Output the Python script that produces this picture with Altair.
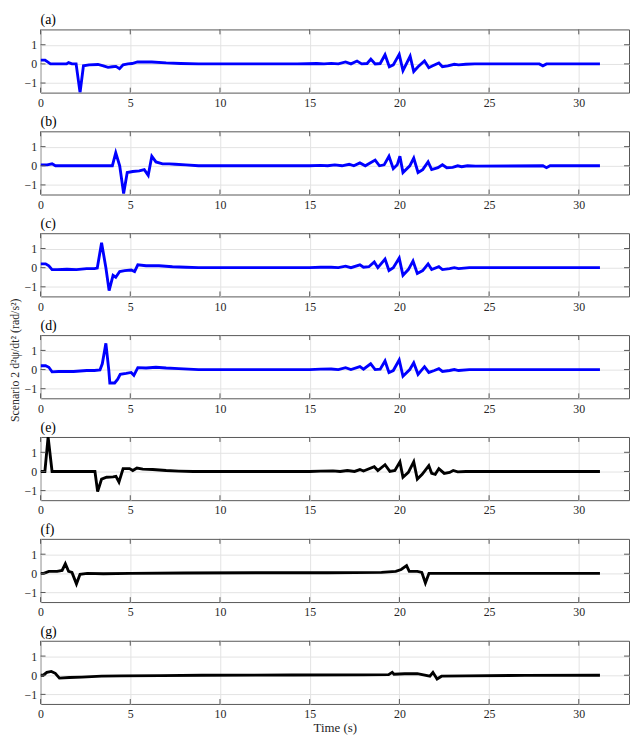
import altair as alt
import pandas as pd

# ---------------- data ----------------
X_TICKS = [0, 5, 10, 15, 20, 25, 30]
Y_TICKS = [-1, 0, 1]
X_DOMAIN = [0, 32.8]
Y_DOMAIN = [-1.5, 1.8]
PANEL_LABELS = ["(a)", "(b)", "(c)", "(d)", "(e)", "(f)", "(g)"]
PANEL_COLORS = ["#0000ff", "#0000ff", "#0000ff", "#0000ff", "#000000", "#000000", "#000000"]
Y_TITLE = "Scenario 2 d\u00b2\u03c8/dt\u00b2 (rad/s\u00b2)"
X_TITLE = "Time (s)"

T_A = [0, 0.25, 0.55, 1.45, 1.56, 1.75, 1.98, 2.2, 2.39, 2.7,
       3.2, 3.5, 3.76, 4.0, 4.2, 4.4, 4.6, 4.87, 5.1, 5.4,
       6.2, 7.0, 7.8, 8.8, 10, 12, 14.3, 15.4, 15.8, 16.2,
       16.6, 17.0, 17.3, 17.64, 17.9, 18.2, 18.41, 18.65, 18.93, 19.2,
       19.44, 19.66, 19.99, 20.2, 20.6, 20.8, 21.04, 21.4, 21.64, 21.86,
       22.2, 22.4, 22.7, 23.06, 23.3, 23.7, 24.2, 27.8, 28.0, 28.2, 31.18]
Y_A = [0.2, 0.2, 0.0, 0.0, 0.07, 0.0, 0.0, -1.5, -0.1, -0.05,
       -0.03, -0.1, -0.18, -0.15, -0.13, -0.25, -0.05, 0.0, 0.02, 0.1,
       0.1, 0.05, 0.02, 0.0, 0.0, 0.0, 0.0, 0.02, 0.0, 0.03,
       0.0, 0.1, 0.0, 0.15, 0.0, 0.02, 0.25, 0.0, 0.02, 0.48,
       -0.15, -0.05, 0.5, -0.35, 0.4, -0.4, -0.15, 0.15, -0.2, -0.1,
       0.05, -0.15, -0.1, -0.02, -0.05, -0.02, 0.0, 0.0, -0.1, 0.0, 0.0]

T_B = [0, 0.37, 0.64, 0.83, 4.0, 4.19, 4.41, 4.63, 4.83, 5.14,
       5.5, 5.78, 6.0, 6.2, 6.43, 6.8, 7.17, 7.5, 8.1, 8.8,
       12, 15.0, 15.6, 16.0, 16.4, 16.8, 17.2, 17.46, 17.8, 18.1,
       18.65, 18.89, 19.15, 19.42, 19.66, 19.88, 20.03, 20.2, 20.58, 20.8,
       21.04, 21.3, 21.6, 21.8, 22.15, 22.4, 22.64, 22.97, 23.25, 23.47,
       23.8, 24.25, 28.0, 28.2, 28.4, 31.18]
Y_B = [0.05, 0.05, 0.1, 0.0, 0.0, 0.68, 0.0, -1.45, -0.35, -0.3,
       -0.27, -0.2, -0.5, 0.5, 0.2, 0.1, 0.1, 0.08, 0.05, 0.0,
       0.0, 0.0, 0.02, 0.0, 0.05, 0.0, 0.08, 0.0, 0.15, 0.0,
       0.3, 0.0, 0.05, 0.5, -0.15, 0.05, 0.5, -0.35, 0.0, 0.4,
       -0.35, -0.2, 0.2, -0.2, -0.1, 0.05, -0.1, -0.08, 0.0, -0.05,
       0.0, -0.02, 0.0, -0.1, 0.0, 0.0]

T_C = [0, 0.28, 0.46, 0.64, 0.92, 1.47, 2.0, 2.57, 3.0, 3.16,
       3.4, 3.64, 3.82, 4.04, 4.19, 4.41, 4.69, 5.05, 5.24, 5.42,
       5.88, 6.6, 7.35, 8.1, 8.8, 12, 15.0, 15.6, 16.2, 16.6,
       17.0, 17.3, 17.8, 18.0, 18.3, 18.6, 18.8, 19.2, 19.42, 19.66,
       19.99, 20.2, 20.5, 20.76, 21.0, 21.3, 21.6, 21.8, 22.2, 22.4,
       22.8, 23.06, 23.3, 23.9, 31.18]
Y_C = [0.2, 0.2, 0.1, -0.1, -0.1, -0.08, -0.1, -0.05, -0.05, -0.02,
       1.3, 0.0, -1.2, -0.4, -0.5, -0.2, -0.15, -0.12, -0.2, 0.15,
       0.1, 0.1, 0.05, 0.02, 0.0, 0.0, 0.0, 0.02, 0.02, 0.0,
       0.08, 0.0, 0.15, 0.02, 0.05, 0.3, 0.0, 0.45, -0.15, 0.0,
       0.5, -0.4, -0.1, 0.35, -0.3, -0.15, 0.2, -0.1, 0.05, -0.1,
       -0.05, 0.0, -0.05, 0.0, 0.0]

T_D = [0, 0.28, 0.46, 0.64, 1.0, 1.84, 2.57, 3.0, 3.31, 3.44,
       3.64, 3.8, 3.86, 4.13, 4.3, 4.44, 4.77, 5.05, 5.2, 5.42,
       5.88, 6.43, 7.0, 7.7, 8.8, 12, 15.0, 15.6, 16.2, 16.6,
       17.0, 17.3, 17.8, 18.0, 18.4, 18.65, 18.93, 19.2, 19.42, 19.66,
       19.99, 20.2, 20.58, 20.8, 21.04, 21.4, 21.64, 21.95, 22.2, 22.4,
       22.8, 23.06, 23.3, 23.9, 31.18]
Y_D = [0.2, 0.2, 0.12, -0.12, -0.1, -0.1, -0.05, -0.05, -0.02, 0.3,
       1.37, 0.0, -0.7, -0.7, -0.5, -0.25, -0.2, -0.15, -0.3, 0.1,
       0.08, 0.12, 0.08, 0.05, 0.0, 0.0, 0.0, 0.02, 0.03, 0.0,
       0.1, 0.0, 0.15, 0.02, 0.3, 0.0, 0.02, 0.45, -0.15, -0.05,
       0.5, -0.35, 0.0, 0.35, -0.25, 0.15, -0.15, -0.05, 0.05, -0.1,
       -0.05, 0.0, -0.05, 0.0, 0.0]

T_E = [0, 0.24, 0.42, 0.64, 3.03, 3.18, 3.4, 3.68, 4.04, 4.2,
       4.37, 4.6, 4.96, 5.14, 5.37, 5.7, 6.25, 7.0, 7.7, 8.5,
       12, 15.0, 15.6, 16.3, 16.7, 17.1, 17.5, 17.8, 18.0, 18.6,
       18.8, 19.2, 19.47, 19.75, 20.03, 20.2, 20.5, 20.8, 21.0, 21.27,
       21.64, 21.8, 22.0, 22.2, 22.5, 22.8, 23.0, 23.25, 23.7, 31.18]
Y_E = [0.0, 0.0, 1.8, 0.0, 0.0, -1.05, -0.4, -0.3, -0.28, -0.25,
       -0.55, 0.15, 0.15, 0.05, 0.18, 0.12, 0.1, 0.05, 0.02, 0.0,
       0.0, 0.0, 0.02, 0.03, 0.0, 0.05, 0.0, 0.1, 0.02, 0.25,
       0.05, 0.35, 0.0, 0.05, 0.5, -0.3, -0.05, 0.5, -0.4, -0.15,
       0.3, -0.1, -0.15, 0.15, -0.1, -0.05, 0.05, -0.02, 0.0, 0.0]

T_F = [0, 0.18, 0.46, 0.92, 1.2, 1.38, 1.56, 1.75, 2.0, 2.2,
       2.6, 3.5, 5.0, 8.0, 12, 16, 19.0, 19.8, 20.1, 20.4,
       20.55, 21.0, 21.25, 21.45, 21.65, 22.0, 25, 31.18]
Y_F = [0.0, 0.0, 0.1, 0.1, 0.15, 0.5, 0.1, 0.05, -0.55, -0.05,
       0.0, -0.02, 0.0, 0.02, 0.03, 0.03, 0.05, 0.1, 0.2, 0.4,
       0.1, 0.1, 0.05, -0.5, 0.0, 0.0, 0.0, 0.0]

T_G = [0, 0.15, 0.35, 0.6, 0.82, 1.05, 1.6, 2.3, 3.4, 4.5,
       6.7, 9.0, 14, 18, 19.4, 19.6, 19.7, 20.3, 21.0, 21.7,
       21.87, 22.1, 22.35, 23.7, 27, 31.18]
Y_G = [0.0, 0.0, 0.15, 0.2, 0.1, -0.15, -0.12, -0.1, -0.05, -0.03,
       -0.02, 0.0, 0.01, 0.02, 0.03, 0.15, 0.05, 0.08, 0.08, -0.05,
       0.15, -0.2, -0.05, -0.03, -0.01, 0.0]

SERIES = [(T_A, Y_A), (T_B, Y_B), (T_C, Y_C), (T_D, Y_D),
          (T_E, Y_E), (T_F, Y_F), (T_G, Y_G)]

# ---------------- styling ----------------
W, H = 596, 64
TICK_LEN = 5
FONT = "Liberation Serif"
FRAME = "#555555"
GRID = "#e3e3e3"
TEXT = "#262626"


def make_panel(idx):
    t, y = SERIES[idx]
    df = pd.DataFrame({"t": t, "y": y})
    xs = alt.Scale(domain=X_DOMAIN, nice=False, zero=False)
    ys = alt.Scale(domain=Y_DOMAIN, nice=False, zero=False)
    is_last = idx == len(SERIES) - 1
    x_axis = alt.Axis(values=X_TICKS, tickSize=0, domain=False, grid=True,
                      gridColor=GRID, labelPadding=5, labelFlush=False,
                      labelFont=FONT, labelFontSize=12, labelColor=TEXT,
                      titleFont=FONT, titleFontSize=13, titleColor=TEXT,
                      titleFontWeight="normal",
                      title=X_TITLE if is_last else "", titlePadding=2)
    common_y = dict(values=Y_TICKS, tickSize=0, domain=False, grid=True,
                    gridColor=GRID, labelPadding=4, labelFont=FONT,
                    labelFontSize=12, labelColor=TEXT, titleFont=FONT,
                    titleFontSize=12, titleColor=TEXT, titleFontWeight="normal")
    if idx == 3:
        y_axis = alt.Axis(title=Y_TITLE, titleX=-26, titleY=25,
                          titleAngle=270, titleAlign="center",
                          titleBaseline="middle", **common_y)
    else:
        y_axis = alt.Axis(title="", **common_y)

    line = alt.Chart(df).mark_line(color=PANEL_COLORS[idx], strokeWidth=2.9,
                                   clip=True).encode(
        x=alt.X("t:Q", scale=xs, axis=x_axis),
        y=alt.Y("y:Q", scale=ys, axis=y_axis),
    )
    xt = pd.DataFrame({"t": X_TICKS})
    yt = pd.DataFrame({"y": Y_TICKS})
    bottom = alt.Chart(xt).mark_rule(color=FRAME, strokeWidth=1).encode(
        x=alt.X("t:Q", scale=xs, axis=x_axis),
        y=alt.value(H), y2=alt.value(H - TICK_LEN))
    top = alt.Chart(xt).mark_rule(color=FRAME, strokeWidth=1).encode(
        x=alt.X("t:Q", scale=xs, axis=x_axis),
        y=alt.value(0), y2=alt.value(TICK_LEN))
    left = alt.Chart(yt).mark_rule(color=FRAME, strokeWidth=1).encode(
        y=alt.Y("y:Q", scale=ys, axis=y_axis),
        x=alt.value(0), x2=alt.value(TICK_LEN))
    right = alt.Chart(yt).mark_rule(color=FRAME, strokeWidth=1).encode(
        y=alt.Y("y:Q", scale=ys, axis=y_axis),
        x=alt.value(W), x2=alt.value(W - TICK_LEN))
    lab = pd.DataFrame({"label": [PANEL_LABELS[idx]]})
    label = alt.Chart(lab).mark_text(align="left", baseline="alphabetic",
                                     font=FONT, fontSize=14,
                                     color="black").encode(
        text="label:N", x=alt.value(0), y=alt.value(-5))
    return alt.layer(line, bottom, top, left, right, label).properties(
        width=W, height=H)


panels = [make_panel(i) for i in range(len(SERIES))]

chart = alt.vconcat(*panels, spacing=39.2, bounds="flush").properties(
    padding=0
).configure_view(stroke=FRAME, strokeWidth=1)

chart.save("out.html", embed_options={"renderer": "svg", "actions": False})
